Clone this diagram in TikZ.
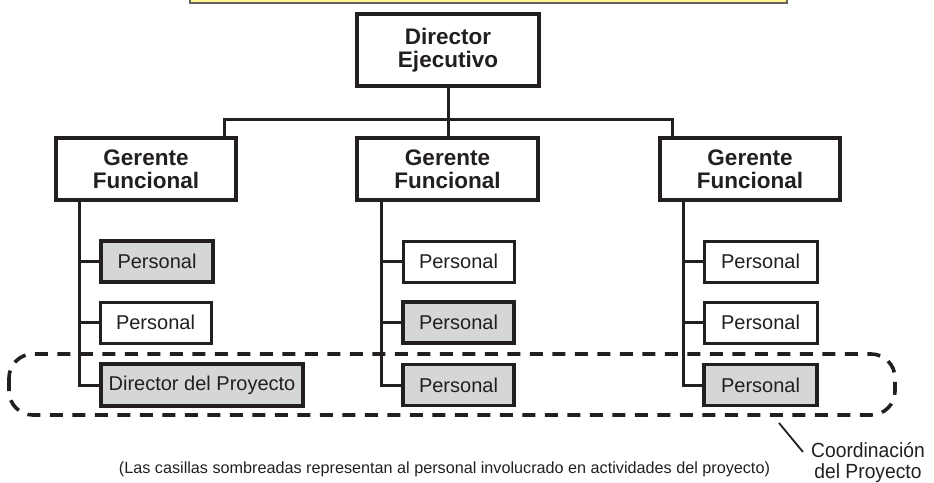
\documentclass[tikz,border=0pt]{standalone}
\usepackage{fontspec}
\setmainfont{Liberation Sans}
\newfontfamily\narrowfont[FakeStretch=0.94]{Liberation Sans}
\definecolor{inkc}{HTML}{231F20}
\definecolor{shade}{HTML}{D5D6D8}
\definecolor{titley}{HTML}{FFF78E}
\begin{document}
\begin{tikzpicture}[x=1pt,y=-1pt,
  box/.style={draw=inkc,rectangle,inner sep=0pt,text=inkc},
  headbox/.style={box,line width=3.6pt,font=\fontsize{22.5}{23}\selectfont\bfseries,align=center},
  staffbox/.style={box,line width=3pt,fill=white,font=\fontsize{20}{22}\selectfont,minimum height=41pt},
  shadedbox/.style={staffbox,fill=shade,line width=3.8pt},
  link/.style={draw=inkc,line width=3pt},
  note/.style={text=inkc,inner sep=0pt}]
\useasboundingbox (0,0) rectangle (934,482);
% title band (cut off at top)
\fill[titley,draw=inkc!70,line width=1.8pt] (190,-6) rectangle (787,3);
% director
\node[headbox,minimum width=182pt,minimum height=72pt] (dir) at (448,50) {Director\\Ejecutivo};
% functional managers
\node[headbox,minimum width=180pt,minimum height=62pt] (g1) at (146,169) {Gerente\\Funcional};
\node[headbox,minimum width=181pt,minimum height=62pt] (g2) at (447.5,169) {Gerente\\Funcional};
\node[headbox,minimum width=180pt,minimum height=62pt] (g3) at (750,169) {Gerente\\Funcional};
% bar
\coordinate (bl) at (224,119);
\coordinate (br) at (672,119);
\draw[link] (dir.south) -- (dir.south |- g2.north);
\draw[link,line cap=rect] (g1.north -| bl) -- (bl) -- (br) -- (g3.north -| br);
% staff column 1
\node[shadedbox,minimum width=112pt] (a1) at (157,261.5) {Personal};
\node[staffbox,minimum width=111pt] (a2) at (155.5,322.5) {Personal};
\node[shadedbox,minimum width=202pt,minimum height=42pt] (a3) at (202,385) {Director del Proyecto};
% staff column 2
\node[staffbox,minimum width=111pt] (b1) at (458.5,261.5) {Personal};
\node[shadedbox,minimum width=111pt] (b2) at (458.5,322.5) {Personal};
\node[shadedbox,minimum width=111pt] (b3) at (458.5,385) {Personal};
% staff column 3
\node[staffbox,minimum width=113pt] (c1) at (760.5,261.5) {Personal};
\node[staffbox,minimum width=113pt] (c2) at (760.5,322.5) {Personal};
\node[shadedbox,minimum width=113pt] (c3) at (760.5,385) {Personal};
% vertical spines
\coordinate (va) at (79,200);
\coordinate (vb) at (381,200);
\coordinate (vc) at (683,200);
\draw[link] (va) |- (a3.west);
\draw[link] (va |- a1.west) -- (a1.west);
\draw[link] (va |- a2.west) -- (a2.west);
\draw[link] (vb) |- (b3.west);
\draw[link] (vb |- b1.west) -- (b1.west);
\draw[link] (vb |- b2.west) -- (b2.west);
\draw[link] (vc) |- (c3.west);
\draw[link] (vc |- c1.west) -- (c1.west);
\draw[link] (vc |- c2.west) -- (c2.west);
% coordination zone
\draw[draw=inkc,line width=3.6pt,dash pattern=on 13pt off 9.5pt,rounded corners=24pt] (9,354) rectangle (895,415);
\coordinate (ptr) at (779,423);
\node[note,font=\narrowfont\fontsize{20.5}{21}\selectfont,align=center] (coord) at (868,463) {Coordinación\\del Proyecto};
\draw[draw=inkc,line width=1.8pt] (ptr) -- (803,452);
\node[note,font=\fontsize{16.2}{16}\selectfont] (foot) at (444.5,469) {(Las casillas sombreadas representan al personal involucrado en actividades del proyecto)};
\end{tikzpicture}
\end{document}
